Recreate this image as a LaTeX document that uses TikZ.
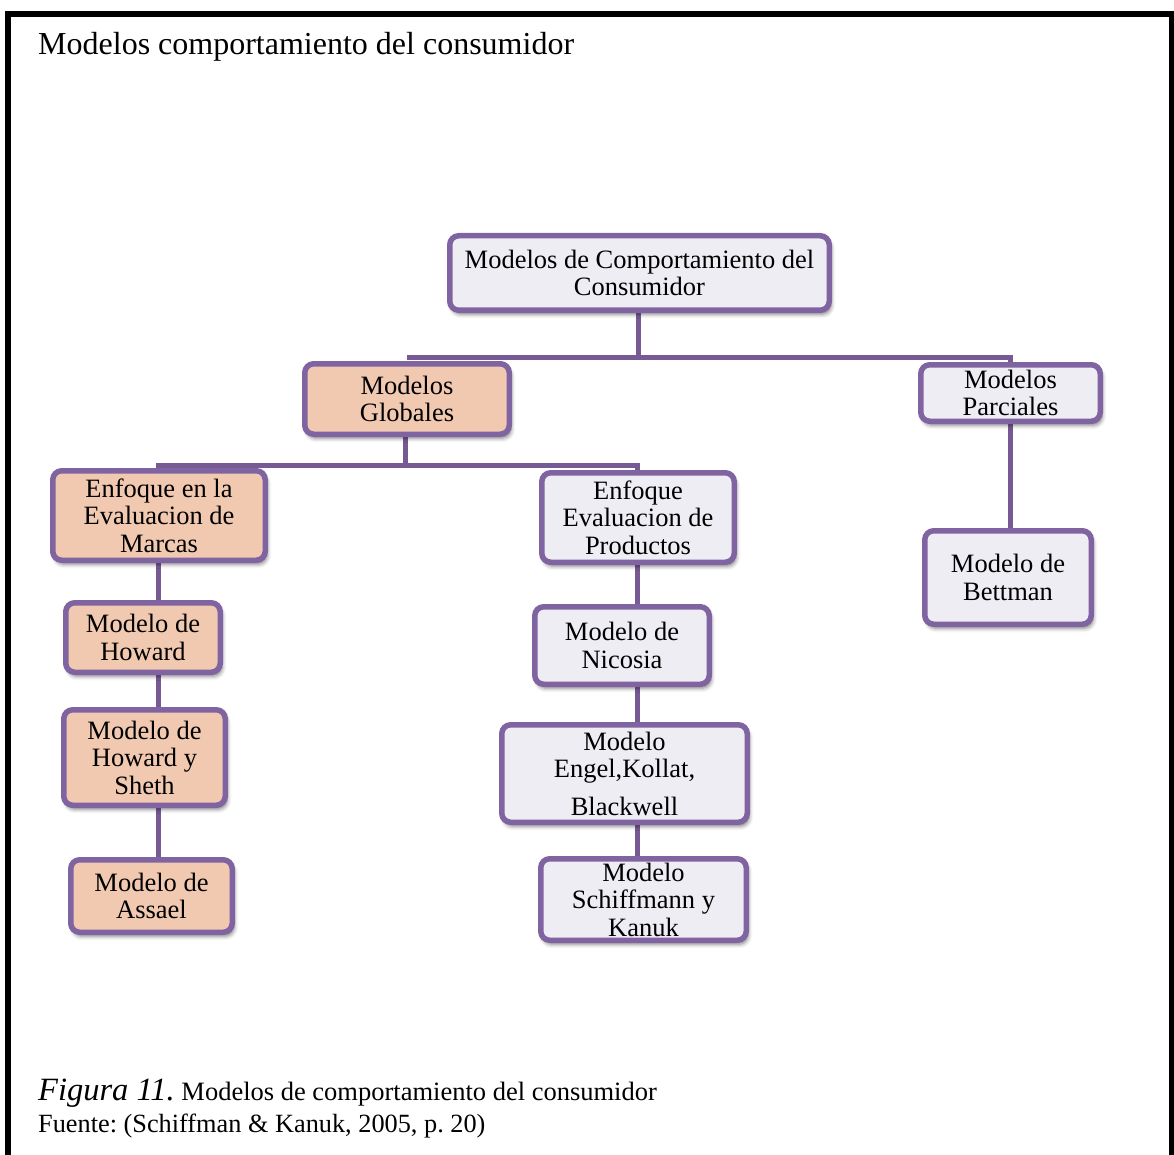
\documentclass[tikz,border=0pt]{standalone}
\usepackage{fontspec}
\setmainfont{Liberation Serif}
\usetikzlibrary{shadows.blur}
\definecolor{boxline}{HTML}{8064A2}
\definecolor{lavfill}{HTML}{EFEDF4}
\definecolor{peachfill}{HTML}{F1C9B1}
\definecolor{linkcol}{HTML}{775A93}
\pgfdeclarelayer{bg}
\pgfsetlayers{bg,main}
\frenchspacing

\begin{document}
\begin{tikzpicture}[x=1pt,y=-1pt,
  model/.style={draw=boxline, line width=5.5pt, rounded corners=9pt,
    align=center, inner sep=0pt,
    font=\fontsize{26.5}{27.5}\selectfont,
    blur shadow={shadow xshift=2pt, shadow yshift=-4pt,
      shadow blur radius=4pt, shadow opacity=50}},
  lav/.style={model, fill=lavfill},
  peach/.style={model, fill=peachfill},
  sz/.style 2 args={minimum width=#1pt-5.5pt, minimum height=#2pt-5.5pt},
  link/.style={draw=linkcol, line width=5pt},
  plain/.style={anchor=base west, inner sep=0pt}]

\useasboundingbox (0,0) rectangle (1174,1155);
\clip (0,0) rectangle (1174,1155);

% page frame (open at the bottom)
\draw[line width=6pt, line join=miter]
  (8,1170) -- (8,14.5) -- (1171.5,14.5) -- (1171.5,1170);

% heading and caption
\node[plain, font=\fontsize{32}{36}\selectfont] (title) at (38,55)
  {Modelos comportamiento del consumidor};
\node[plain] (cap) at (38,1100)
  {\fontsize{32.5}{36}\selectfont\itshape Figura 11.\fontsize{26.5}{30}\selectfont\upshape\ Modelos de comportamiento del consumidor};
\node[plain, font=\fontsize{26.3}{30}\selectfont] (src) at (38,1132)
  {Fuente: (Schiffman \& Kanuk, 2005, p. 20)};

% model boxes
\node[lav,   sz={385}{80}]  (top)     at (639.5,273)  {Modelos de Comportamiento del\\Consumidor};
\node[peach, sz={210}{76}]  (glob)    at (407,399)    {Modelos\\Globales};
\node[lav,   sz={185}{62}]  (parc)    at (1010.5,393) {Modelos\\Parciales};
\node[peach, sz={218}{95}]  (marcas)  at (159,515.5)  {Enfoque en la\\Evaluacion de\\Marcas};
\node[lav,   sz={198}{95}]  (prod)    at (638,517.5)  {Enfoque\\Evaluacion de\\Productos};
\node[lav,   sz={172}{99}]  (bett)    at (1008,577.5) {Modelo de\\Bettman};
\node[peach, sz={160}{75}]  (howard)  at (143,637.5)  {Modelo de\\Howard};
\node[lav,   sz={180}{83}]  (nicosia) at (622,645.5)  {Modelo de\\Nicosia};
\node[peach, sz={167}{101}] (hs)      at (144.5,757.5){Modelo de\\Howard y\\Sheth};
\node[lav,   sz={251}{103}] (engel)   at (624.5,773.5){Modelo\\Engel,Kollat,\\[10pt]Blackwell};
\node[peach, sz={167}{78}]  (assael)  at (151.5,896)  {Modelo de\\Assael};
\node[lav,   sz={211}{87}]  (schiff)  at (643.5,899.5){Modelo\\Schiffmann y\\Kanuk};

% connector routing
\coordinate (bus1) at (0,357);
\coordinate (bus2) at (0,465);
\coordinate (spineL) at (158,0);
\coordinate (spineG) at (405,0);
\coordinate (spineM) at (637,0);
\coordinate (spineT) at (638,0);
\coordinate (spineR) at (1010,0);

\begin{pgfonlayer}{bg}
  \draw[link] (spineT |- top.south) -- (spineT |- bus1);
  \draw[link] (glob.north |- bus1) -- (spineR |- bus1) -- (spineR |- parc.north);
  \draw[link] (spineR |- parc.south) -- (spineR |- bett.north);
  \draw[link] (spineG |- glob.south) -- (spineG |- bus2);
  \draw[link] (spineL |- marcas.north) -- (spineL |- bus2)
              -- (spineM |- bus2) -- (spineM |- prod.north);
  \draw[link] (spineL |- marcas.south) -- (spineL |- howard.north);
  \draw[link] (spineL |- howard.south) -- (spineL |- hs.north);
  \draw[link] (spineL |- hs.south) -- (spineL |- assael.north);
  \draw[link] (spineM |- prod.south) -- (spineM |- nicosia.north);
  \draw[link] (spineM |- nicosia.south) -- (spineM |- engel.north);
  \draw[link] (spineM |- engel.south) -- (spineM |- schiff.north);
\end{pgfonlayer}
\end{tikzpicture}
\end{document}
